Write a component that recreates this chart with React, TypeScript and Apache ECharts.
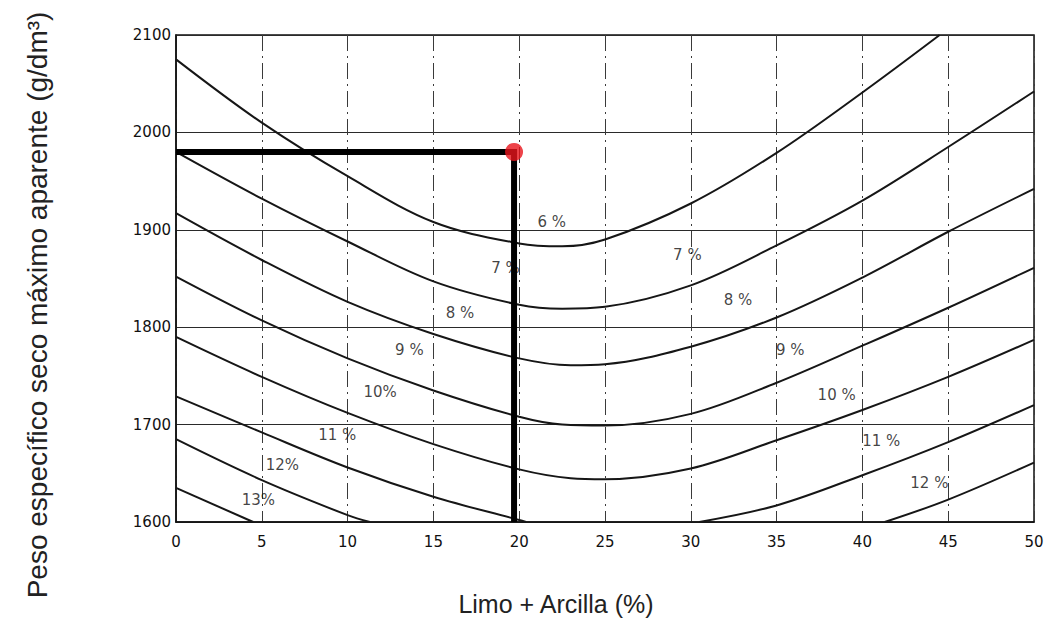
import React, { useEffect, useRef } from "react";
import * as echarts from "echarts";

// Compaction curves: maximum dry density (g/dm³) vs. silt + clay content (%),
// one curve per optimum moisture content.
const curve6 = [
  [0, 2075], [5, 2010], [10, 1955], [15, 1908], [20, 1886], [22.5, 1883],
  [25, 1890], [30, 1927], [35, 1979], [40, 2041], [44.5, 2100],
];
const curve7 = [
  [0, 1980], [5, 1932], [10, 1888], [15, 1847], [20, 1823], [22.5, 1819],
  [25, 1821], [30, 1843], [35, 1884], [40, 1930], [45, 1985], [50, 2042],
];
const curve8 = [
  [0, 1917], [5, 1869], [10, 1826], [15, 1793], [20, 1768], [23, 1761],
  [25, 1762], [30, 1780], [35, 1810], [40, 1851], [45, 1898], [50, 1942],
];
const curve9 = [
  [0, 1852], [5, 1807], [10, 1768], [15, 1735], [20, 1708], [22.5, 1700],
  [25, 1699], [30, 1711], [35, 1743], [40, 1781], [45, 1820], [50, 1861],
];
const curve10 = [
  [0, 1790], [5, 1749], [10, 1712], [15, 1680], [20, 1654], [23, 1645],
  [25, 1644], [30, 1655], [35, 1684], [40, 1715], [45, 1749], [50, 1787],
];
const curve11Left = [[0, 1729], [5, 1692], [10, 1656], [15, 1626], [20, 1602], [20.4, 1600]];
const curve11Right = [[30.5, 1600], [35, 1617], [40, 1648], [45, 1682], [50, 1720]];
const curve12Left = [[0, 1685], [5, 1643], [10, 1607], [11.3, 1600]];
const curve12Right = [[41.3, 1600], [45, 1623], [50, 1661]];
const curve13 = [[0, 1635], [4.5, 1600]];

const curveSeries = [
  curve6, curve7, curve8, curve9, curve10,
  curve11Left, curve11Right, curve12Left, curve12Right, curve13,
];

// Moisture labels placed along the curves
const curveLabels = [
  { text: "6 %", x: 21.9, y: 1908 },
  { text: "7 %", x: 19.2, y: 1861 },
  { text: "7 %", x: 29.8, y: 1874 },
  { text: "8 %", x: 16.55, y: 1815 },
  { text: "8 %", x: 32.75, y: 1828 },
  { text: "9 %", x: 13.6, y: 1777 },
  { text: "9 %", x: 35.8, y: 1777 },
  { text: "10%", x: 11.9, y: 1733 },
  { text: "10 %", x: 38.5, y: 1730 },
  { text: "11 %", x: 9.4, y: 1689 },
  { text: "11 %", x: 41.1, y: 1683 },
  { text: "12%", x: 6.2, y: 1659 },
  { text: "12 %", x: 43.9, y: 1640 },
  { text: "13%", x: 4.8, y: 1623 },
];

// Worked example: 19.7 % silt + clay
const readPoint = [19.7, 1980];

const X_MIN = 0;
const X_MAX = 50;
const X_STEP = 5;
const Y_MIN = 1600;
const Y_MAX = 2100;
const Y_STEP = 100;

const TICK_FONT = "DejaVu Sans";
const TITLE_FONT = "Liberation Sans";

export default function App() {
  const ref = useRef<HTMLDivElement>(null);

  useEffect(() => {
    const chart = echarts.init(ref.current!, null, { renderer: "svg" });

    const lines = curveSeries.map((data) => ({
      type: "line",
      data,
      smooth: 0.35,
      symbol: "none",
      silent: true,
      clip: true,
      lineStyle: { color: "#161616", width: 2 },
      z: 3,
    }));

    chart.setOption({
      animation: false,
      backgroundColor: "#ffffff",
      grid: {
        left: 176,
        right: 16,
        top: 35,
        bottom: 104,
        show: true,
        borderColor: "#111",
        borderWidth: 1.5,
        backgroundColor: "transparent",
      },
      xAxis: {
        type: "value",
        min: X_MIN,
        max: X_MAX,
        interval: X_STEP,
        axisLine: { show: true, lineStyle: { color: "#111", width: 1.5 } },
        axisTick: { show: false },
        axisLabel: {
          color: "#111",
          fontFamily: TICK_FONT,
          fontSize: 15,
          margin: 12,
          formatter: (v: number) => String(v),
        },
        splitLine: {
          show: true,
          lineStyle: { color: "#3a3a3a", width: 1, type: [16, 5, 2, 5] },
        },
      },
      yAxis: {
        type: "value",
        min: Y_MIN,
        max: Y_MAX,
        interval: Y_STEP,
        axisLine: { show: true, lineStyle: { color: "#111", width: 1.5 } },
        axisTick: { show: false },
        axisLabel: {
          color: "#111",
          fontFamily: TICK_FONT,
          fontSize: 15,
          margin: 5,
          formatter: (v: number) => String(v),
        },
        splitLine: {
          show: true,
          lineStyle: { color: "#2a2a2a", width: 1.2, type: "solid" },
        },
      },
      graphic: [
        {
          type: "text",
          x: 37,
          y: 305,
          rotation: Math.PI / 2,
          style: {
            text: "Peso específico seco máximo aparente (g/dm³)",
            fontFamily: TITLE_FONT,
            fontSize: 28,
            fill: "#222",
            align: "center",
            verticalAlign: "middle",
          },
        },
        {
          type: "text",
          x: 556,
          y: 604,
          style: {
            text: "Limo + Arcilla (%)",
            fontFamily: TITLE_FONT,
            fontSize: 25,
            fill: "#222",
            align: "center",
            verticalAlign: "middle",
          },
        },
      ],
      series: [
        ...lines,
        {
          type: "scatter",
          silent: true,
          symbolSize: 1,
          itemStyle: { color: "rgba(0,0,0,0)" },
          data: curveLabels.map((l) => ({ value: [l.x, l.y], name: l.text })),
          label: {
            show: true,
            position: "inside",
            formatter: (p: any) => p.name,
            color: "#111",
            fontFamily: TICK_FONT,
            fontSize: 15,
          },
          z: 4,
        },
        {
          type: "line",
          silent: true,
          symbol: "none",
          data: [[X_MIN, readPoint[1]], readPoint, [readPoint[0], Y_MIN]],
          lineStyle: { color: "#000", width: 6, cap: "butt", join: "miter" },
          z: 5,
        },
        {
          type: "scatter",
          silent: true,
          symbolSize: 18,
          data: [readPoint],
          itemStyle: { color: "#e8141c" },
          z: 6,
        },
      ],
    });

    return () => chart.dispose();
  }, []);

  return (
    <div
      ref={ref}
      style={{
        position: "fixed",
        left: 0,
        top: 0,
        width: 1050,
        height: 626,
        background: "#fff",
      }}
    />
  );
}
